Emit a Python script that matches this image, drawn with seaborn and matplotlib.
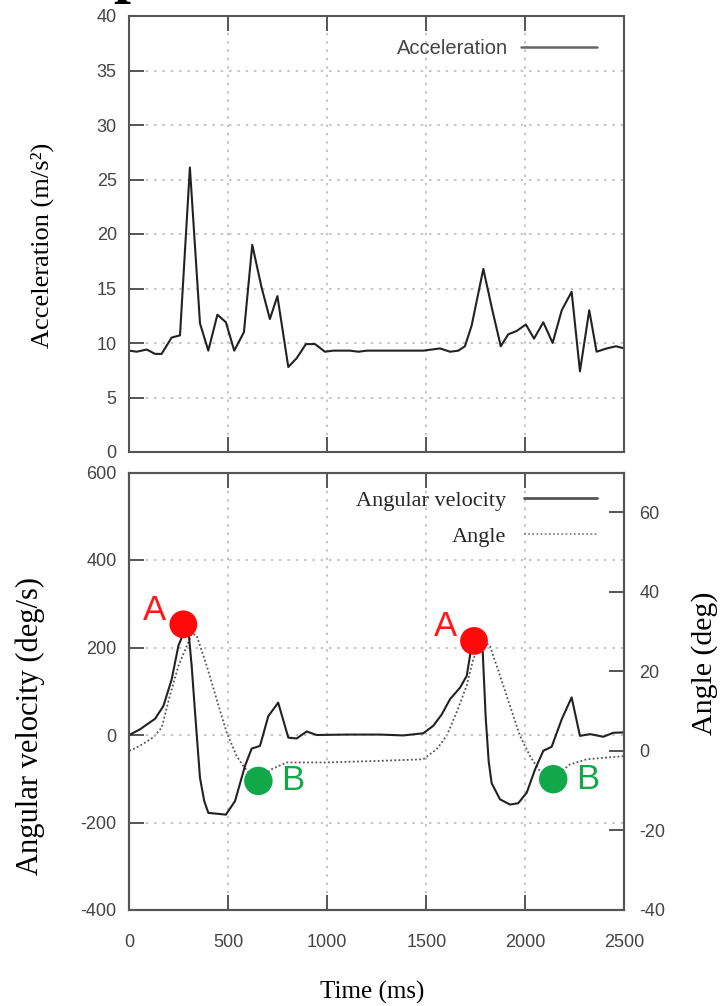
import pandas as pd
import seaborn as sns
import matplotlib.pyplot as plt

# Acceleration trace (top panel)
acc_time = [0, 37, 88, 130, 163, 214, 256, 306, 357, 399, 445, 488, 530, 579, 621,
            668, 710, 748, 803, 845, 892, 938, 988, 1030, 1114, 1157, 1200, 1266,
            1350, 1485, 1569, 1620, 1662, 1695, 1729, 1788, 1830, 1876, 1914, 1956,
            2003, 2044, 2091, 2138, 2184, 2234, 2276, 2323, 2360, 2411, 2458, 2500]
acc_value = [9.3, 9.2, 9.4, 9.0, 9.0, 10.5, 10.7, 26.1, 11.8, 9.3, 12.6, 11.9, 9.3,
             11.0, 19.0, 15.1, 12.2, 14.3, 7.8, 8.6, 9.9, 9.9, 9.2, 9.3, 9.3, 9.2,
             9.3, 9.3, 9.3, 9.3, 9.5, 9.2, 9.3, 9.7, 11.6, 16.8, 13.3, 9.7, 10.8,
             11.1, 11.7, 10.4, 11.9, 10.0, 13.0, 14.7, 7.4, 13.0, 9.2, 9.5, 9.7, 9.5]

# Angular velocity (bottom panel, left axis)
vel_time = [0, 54, 130, 172, 214, 248, 280, 300, 315, 332, 357, 378, 399, 488, 534,
            584, 618, 660, 702, 752, 803, 845, 896, 946, 1100, 1266, 1384, 1485,
            1535, 1578, 1620, 1670, 1704, 1729, 1755, 1785, 1800, 1815, 1830, 1872,
            1923, 1964, 2007, 2049, 2091, 2133, 2184, 2234, 2276, 2327, 2394, 2444,
            2500]
vel_value = [0, 13, 37, 66, 127, 204, 240, 232, 158, 52, -98, -150, -178, -182,
             -151, -71, -31, -25, 43, 74, -6, -8, 8, 0, 1, 1, -1, 4, 21, 47, 82, 108,
             135, 204, 225, 190, 40, -60, -110, -147, -159, -156, -132, -79, -36,
             -27, 36, 86, -2, 2, -4, 5, 6]

# Angle (bottom panel, right axis)
ang_time = [0, 54, 121, 164, 205, 248, 298, 315, 340, 391, 441, 492, 542, 576, 620,
            660, 719, 795, 997, 1266, 1485, 1519, 1552, 1603, 1653, 1704, 1737, 1771,
            1800, 1821, 1872, 1923, 1973, 2024, 2066, 2110, 2150, 2225, 2310, 2500]
ang_value = [0, 1.3, 3.4, 5.9, 13.9, 21.4, 27.3, 29.5, 29, 21.4, 13, 4.6, -1.3, -3.8,
             -6.5, -6.8, -4.6, -2.9, -2.9, -2.5, -2.1, -0.8, 0.4, 3.8, 9.7, 16.4,
             23.1, 26.5, 27, 26.5, 18.9, 11.3, 3.8, -1.3, -4.6, -6.5, -6.5, -3.4,
             -2.1, -1.3]

# Event markers
peak_a_time = [273, 1741]
peak_a_vel = [253, 215]
low_b_time = [652, 2141]
low_b_vel = [-105, -101]

time_ticks = [0, 500, 1000, 1500, 2000, 2500]
acc_ticks = [0, 5, 10, 15, 20, 25, 30, 35, 40]
vel_ticks = [-400, -200, 0, 200, 400, 600]
ang_ticks = [-40, -20, 0, 20, 40, 60]

SERIF = 'Liberation Serif'
SANS = 'Liberation Sans'
SPINE = '#555555'
TICKTXT = '#444444'
LINE = '#222222'
GRID = dict(linestyle=(0, (1.5, 3.5)), color='#bbbbbb', linewidth=1.2)

sns.set_theme(style='white')
plt.rcParams['font.family'] = [SANS, 'DejaVu Sans']
plt.rcParams['axes.unicode_minus'] = False


def _style_axis(ax, left=True, right=False):
    for side in ['left', 'right', 'top', 'bottom']:
        ax.spines[side].set_color(SPINE)
        ax.spines[side].set_linewidth(1.5)
    ax.tick_params(axis='both', direction='in', length=11, width=1.4, color=SPINE,
                   labelcolor=TICKTXT, labelsize=13)
    ax.tick_params(axis='x', top=True, bottom=True, pad=17)
    ax.tick_params(axis='y', left=left, right=right, pad=9)


W, H = 721, 1006
fig = plt.figure(figsize=(W / 100, H / 100), dpi=100)
ax1 = fig.add_axes([129.3 / W, 1 - 452 / H, 495 / W, 436 / H])
ax2 = fig.add_axes([129.3 / W, 1 - 910 / H, 495 / W, 437.5 / H])
ax3 = ax2.twinx()

# Top panel
acc_df = pd.DataFrame({'time': acc_time, 'acc': acc_value})
sns.lineplot(data=acc_df, x='time', y='acc', ax=ax1, color=LINE, linewidth=1.5,
             label='Acceleration')
ax1.set_xlim(0, 2500)
ax1.set_ylim(0, 40)
ax1.set_xticks(time_ticks)
ax1.set_yticks(acc_ticks)
ax1.set_xticklabels([])
ax1.set_xlabel('')
ax1.set_ylabel('')
ax1.grid(True, **GRID)
_style_axis(ax1)
leg1 = ax1.legend(loc='upper right', bbox_to_anchor=(0.945, 0.947), frameon=False,
                  markerfirst=False, borderpad=0, borderaxespad=0,
                  handlelength=3.8, handletextpad=0.6, fontsize=14.5)
for t in leg1.get_texts():
    t.set_color(TICKTXT)
for h in leg1.get_lines():
    h.set_color('#666666')
    h.set_linewidth(1.8)

# Bottom panel
vel_df = pd.DataFrame({'time': vel_time, 'vel': vel_value})
ang_df = pd.DataFrame({'time': ang_time, 'ang': ang_value})
sns.lineplot(data=ang_df, x='time', y='ang', ax=ax3, color='#555555', linewidth=1.3,
             linestyle=(0, (1, 1.3)), label='Angle', legend=False)
sns.lineplot(data=vel_df, x='time', y='vel', ax=ax2, color=LINE, linewidth=1.5,
             label='Angular velocity', legend=False)
sns.scatterplot(x=peak_a_time, y=peak_a_vel, ax=ax2, color='#ff0a0a', s=400,
                edgecolor='none', zorder=5, legend=False)
sns.scatterplot(x=low_b_time, y=low_b_vel, ax=ax2, color='#12a84a', s=420,
                edgecolor='none', zorder=5, legend=False)
for t, v in zip(peak_a_time, peak_a_vel):
    ax2.annotate('A', xy=(t, v), xytext=(-29, 14), textcoords='offset pixels',
                 ha='center', va='center', fontsize=25, color='#ff1a1a',
                 family=SANS)
for t, v in zip(low_b_time, low_b_vel):
    ax2.annotate('B', xy=(t, v), xytext=(34, 0), textcoords='offset pixels',
                 ha='center', va='center', fontsize=25, color='#12a84a',
                 family=SANS)

ax2.set_zorder(ax3.get_zorder() + 1)
ax2.patch.set_visible(False)
ax2.set_xlim(0, 2500)
ax2.set_ylim(-400, 600)
ax2.set_xticks(time_ticks)
ax2.set_yticks(vel_ticks)
ax2.set_xlabel('')
ax2.set_ylabel('')
ax2.grid(True, **GRID)
_style_axis(ax2)
ax3.set_ylim(-40, 70)
ax3.set_yticks(ang_ticks)
ax3.set_ylabel('')
ax3.grid(False)
_style_axis(ax3, left=False, right=True)
ax3.tick_params(axis='y', pad=11)

handles = ax2.get_lines()[:1] + ax3.get_lines()[:1]
leg2 = ax2.legend(handles, ['Angular velocity', 'Angle'], loc='upper right',
                  bbox_to_anchor=(0.945, 0.96), frameon=False, markerfirst=False,
                  borderpad=0, borderaxespad=0, handlelength=3.3,
                  handletextpad=0.8, labelspacing=0.7,
                  prop={'family': SERIF, 'size': 16})
leg2.get_lines()[0].set_color('#555555')
leg2.get_lines()[0].set_linewidth(2.0)
leg2.get_lines()[1].set_color('#888888')

# Axis titles
fig.text(42 / W, 1 - 245 / H, 'Acceleration (m/s²)', rotation=90, ha='center',
         va='center', fontsize=19, family=SERIF, color='black')
fig.text(30 / W, 1 - 726 / H, 'Angular velocity (deg/s)', rotation=90, ha='center',
         va='center', fontsize=22, family=SERIF, color='black')
fig.text(705 / W, 1 - 663 / H, 'Angle (deg)', rotation=90, ha='center',
         va='center', fontsize=21.5, family=SERIF, color='black')
fig.text(372 / W, 1 - 992 / H, 'Time (ms)', ha='center', va='center',
         fontsize=18, family=SERIF, color='black')

# Clipped glyph of a heading above the figure
fig.text(130 / W, 1 + 9 / H, 'p', ha='center', va='baseline', fontsize=44,
         fontweight='bold', family=SERIF, color='black')

fig.savefig('out.png', dpi=100)
